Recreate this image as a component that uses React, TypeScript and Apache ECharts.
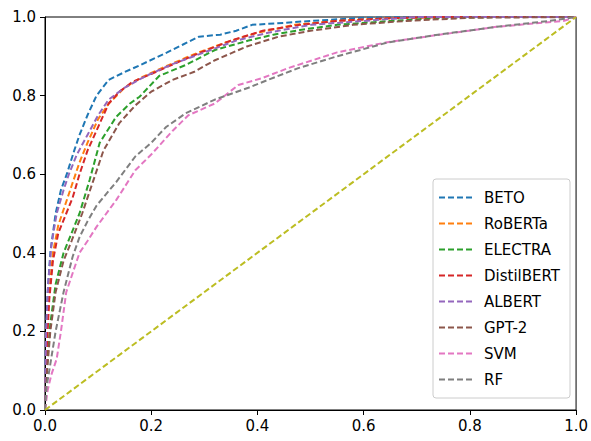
import React, { useEffect, useRef } from "react";
import * as echarts from "echarts";

const models = ["BETO", "RoBERTa", "ELECTRA", "DistilBERT", "ALBERT", "GPT-2", "SVM", "RF"];
const colors = ["#1f77b4", "#ff7f0e", "#2ca02c", "#d62728", "#9467bd", "#8c564b", "#e377c2", "#7f7f7f"];
const tickLabels = ["0.0", "0.2", "0.4", "0.6", "0.8", "1.0"];

const beto = [[0,0],[0.002,0.2],[0.005,0.3],[0.01,0.4],[0.02,0.5],[0.03,0.56],[0.041,0.6],[0.055,0.66],[0.065,0.7],[0.08,0.75],[0.097,0.8],[0.12,0.84],[0.15,0.86],[0.18,0.878],[0.23,0.91],[0.26,0.93],[0.29,0.95],[0.33,0.955],[0.36,0.965],[0.39,0.98],[0.45,0.985],[0.5,0.99],[0.6,0.998],[0.7,1],[1,1]];
const roberta = [[0,0],[0.003,0.18],[0.008,0.3],[0.015,0.4],[0.025,0.47],[0.04,0.53],[0.05,0.57],[0.065,0.63],[0.08,0.68],[0.1,0.74],[0.12,0.78],[0.15,0.82],[0.18,0.845],[0.22,0.87],[0.28,0.905],[0.34,0.935],[0.4,0.96],[0.47,0.98],[0.55,0.99],[0.65,0.997],[0.75,1],[1,1]];
const electra = [[0,0],[0.004,0.12],[0.01,0.22],[0.02,0.32],[0.035,0.4],[0.05,0.45],[0.065,0.5],[0.084,0.585],[0.103,0.68],[0.134,0.746],[0.16,0.78],[0.178,0.797],[0.215,0.85],[0.265,0.878],[0.32,0.916],[0.383,0.94],[0.43,0.955],[0.48,0.967],[0.55,0.98],[0.65,0.99],[0.75,0.998],[0.85,1],[1,1]];
const distilbert = [[0,0],[0.003,0.15],[0.008,0.28],[0.015,0.38],[0.025,0.45],[0.04,0.5],[0.052,0.54],[0.065,0.6],[0.08,0.66],[0.1,0.72],[0.12,0.78],[0.14,0.81],[0.165,0.835],[0.2,0.855],[0.23,0.873],[0.29,0.908],[0.35,0.94],[0.41,0.965],[0.48,0.98],[0.55,0.99],[0.65,0.997],[0.75,1],[1,1]];
const albert = [[0,0],[0.002,0.2],[0.006,0.32],[0.012,0.42],[0.022,0.5],[0.035,0.56],[0.045,0.6],[0.06,0.65],[0.08,0.7],[0.1,0.75],[0.12,0.79],[0.15,0.82],[0.19,0.85],[0.24,0.88],[0.3,0.91],[0.36,0.94],[0.42,0.96],[0.5,0.98],[0.6,0.99],[0.7,1],[1,1]];
const gpt2 = [[0,0],[0.004,0.1],[0.01,0.2],[0.02,0.3],[0.035,0.38],[0.05,0.43],[0.07,0.5],[0.09,0.58],[0.11,0.66],[0.14,0.73],[0.17,0.775],[0.2,0.81],[0.24,0.84],[0.28,0.86],[0.32,0.89],[0.38,0.925],[0.44,0.95],[0.5,0.965],[0.58,0.98],[0.68,0.99],[0.8,0.998],[1,1]];
const svm = [[0,0],[0.005,0.05],[0.012,0.09],[0.022,0.13],[0.03,0.2],[0.04,0.3],[0.065,0.4],[0.08,0.43],[0.097,0.466],[0.134,0.534],[0.17,0.61],[0.2,0.65],[0.24,0.71],[0.27,0.75],[0.32,0.78],[0.364,0.827],[0.41,0.845],[0.458,0.87],[0.55,0.91],[0.645,0.936],[0.738,0.954],[0.85,0.975],[0.976,0.99],[1,1]];
const rf = [[0,0],[0.003,0.06],[0.008,0.1],[0.02,0.2],[0.035,0.3],[0.052,0.39],[0.065,0.44],[0.08,0.48],[0.097,0.52],[0.134,0.58],[0.17,0.645],[0.2,0.68],[0.228,0.72],[0.265,0.755],[0.32,0.79],[0.383,0.82],[0.42,0.84],[0.477,0.87],[0.55,0.9],[0.645,0.935],[0.74,0.955],[0.85,0.975],[0.95,0.99],[1,1]];
const chance = [[0,0],[1,1]];

const curves = [beto, roberta, electra, distilbert, albert, gpt2, svm, rf];

export default function App() {
  const ref = useRef<HTMLDivElement>(null);
  useEffect(() => {
    if (!ref.current) return;
    const chart = echarts.init(ref.current, null, { renderer: "svg" });
    const font = "DejaVu Sans";
    const axisCommon = {
      type: "value",
      min: 0,
      max: 1,
      interval: 0.2,
      splitLine: { show: false },
      axisLine: { show: true, onZero: false, lineStyle: { color: "#000", width: 1 } },
      axisTick: { show: true, inside: false, length: 5, lineStyle: { color: "#000", width: 1 } },
      axisLabel: {
        color: "#000",
        fontFamily: font,
        fontSize: 15,
        formatter: (v: number) => tickLabels[Math.round(v / 0.2)] ?? "",
      },
    };
    const series: any[] = curves.map((d, i) => ({
      name: models[i],
      type: "line",
      data: d,
      showSymbol: false,
      symbol: "none",
      color: colors[i],
      lineStyle: { color: colors[i], width: 2, type: [6, 3] },
    }));
    series.push({
      name: "chance",
      type: "line",
      data: chance,
      showSymbol: false,
      symbol: "none",
      color: "#bcbd22",
      lineStyle: { color: "#bcbd22", width: 2, type: [6, 3] },
    });
    chart.setOption({
      animation: false,
      backgroundColor: "#fff",
      grid: { left: 45, top: 17, right: 11, bottom: 31, show: true, borderColor: "#000", borderWidth: 1 },
      xAxis: { ...axisCommon, axisLabel: { ...axisCommon.axisLabel, margin: 8 } },
      yAxis: { ...axisCommon, axisLabel: { ...axisCommon.axisLabel, margin: 9 } },
      legend: {
        data: models,
        orient: "vertical",
        left: 433,
        top: 179,
        padding: [11, 10, 11, 5],
        itemWidth: 33,
        itemHeight: 14,
        itemGap: 11,
        itemStyle: { opacity: 0 },
        lineStyle: { width: 2, type: [6, 3] },
        backgroundColor: "rgba(255,255,255,0.8)",
        borderColor: "#cccccc",
        borderWidth: 1,
        borderRadius: 3,
        textStyle: { color: "#000", fontFamily: font, fontSize: 15, padding: [0, 0, 0, 7] },
      },
      series,
    });
    return () => chart.dispose();
  }, []);
  return <div ref={ref} style={{ width: 591, height: 441, position: "absolute", left: 0, top: 0 }} />;
}
